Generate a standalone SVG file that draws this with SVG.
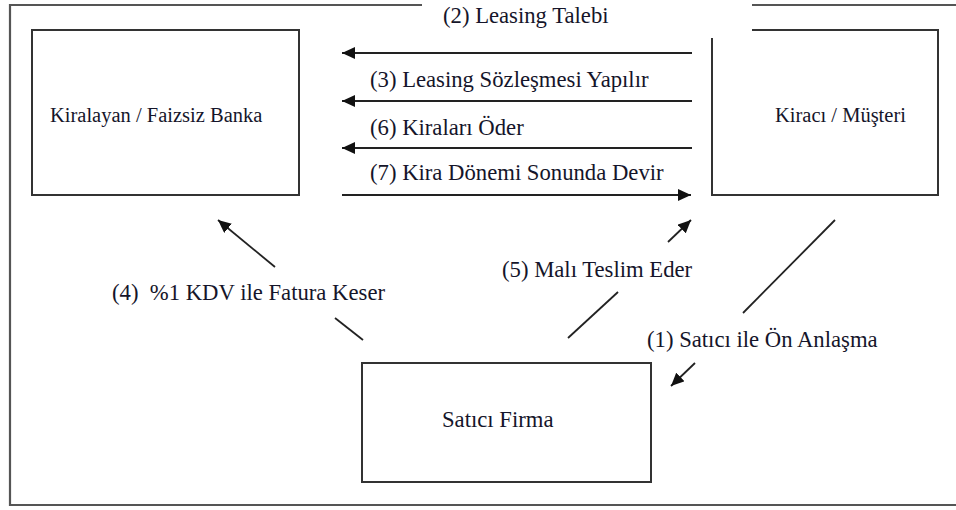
<svg xmlns="http://www.w3.org/2000/svg" width="956" height="510" viewBox="0 0 956 510">
<style>
.frame{fill:none;stroke:#555;stroke-width:2.2}
.box{fill:none;stroke:#333;stroke-width:2}
.t{font-family:"Liberation Serif","Times New Roman",serif;fill:#15152a}
.lbl{font-size:22.7px}
.nlbl{font-size:20.5px}
.c{fill:none;stroke:#222;stroke-width:1.8}
</style>
<defs>
<marker id="ah" markerUnits="userSpaceOnUse" markerWidth="14" markerHeight="12" refX="13" refY="6" orient="auto">
<path d="M0,0 L13,6 L0,12 Z" fill="#111"/>
</marker>
</defs>
<rect width="956" height="510" fill="#fff"/>
<g id="frame">
<path class="frame" d="M422,5 H10 V505 H956"/>
<path class="frame" d="M752,5 H956"/>
</g>
<g id="kiralayan">
<rect class="box" x="32" y="30" width="267" height="165"/>
<text class="t nlbl" x="50" y="122">Kiralayan / Faizsiz Banka</text>
</g>
<g id="kiraci">
<path class="box" d="M752,30 H938 V195 H712 V38"/>
<text class="t nlbl" x="775" y="122">Kiracı / Müşteri</text>
</g>
<g id="satici">
<rect class="box" x="362" y="363" width="289" height="119"/>
<text class="t lbl" x="442" y="427">Satıcı Firma</text>
</g>
<g id="connectors">
<line class="c" x1="692" y1="53" x2="342" y2="53" marker-end="url(#ah)"/>
<line class="c" x1="692" y1="101" x2="342" y2="101" marker-end="url(#ah)"/>
<line class="c" x1="692" y1="148" x2="342" y2="148" marker-end="url(#ah)"/>
<line class="c" x1="342" y1="195" x2="691" y2="195" marker-end="url(#ah)"/>
<line class="c" x1="275" y1="267" x2="218" y2="220" marker-end="url(#ah)"/>
<line class="c" x1="335" y1="318" x2="363" y2="340"/>
<line class="c" x1="568" y1="338" x2="618" y2="292"/>
<line class="c" x1="668" y1="242" x2="691" y2="220" marker-end="url(#ah)"/>
<line class="c" x1="835" y1="220" x2="743" y2="313"/>
<line class="c" x1="695" y1="363" x2="671" y2="386" marker-end="url(#ah)"/>
</g>
<g id="labels">
<text class="t lbl" x="443" y="23">(2) Leasing Talebi</text>
<text class="t lbl" x="370" y="87">(3) Leasing Sözleşmesi Yapılır</text>
<text class="t lbl" x="370" y="135">(6) Kiraları Öder</text>
<text class="t lbl" x="370" y="180">(7) Kira Dönemi Sonunda Devir</text>
<text class="t lbl" x="112" y="300" xml:space="preserve">(4)  %1 KDV ile Fatura Keser</text>
<text class="t lbl" x="502" y="277">(5) Malı Teslim Eder</text>
<text class="t lbl" x="647" y="347">(1) Satıcı ile Ön Anlaşma</text>
</g>
</svg>
